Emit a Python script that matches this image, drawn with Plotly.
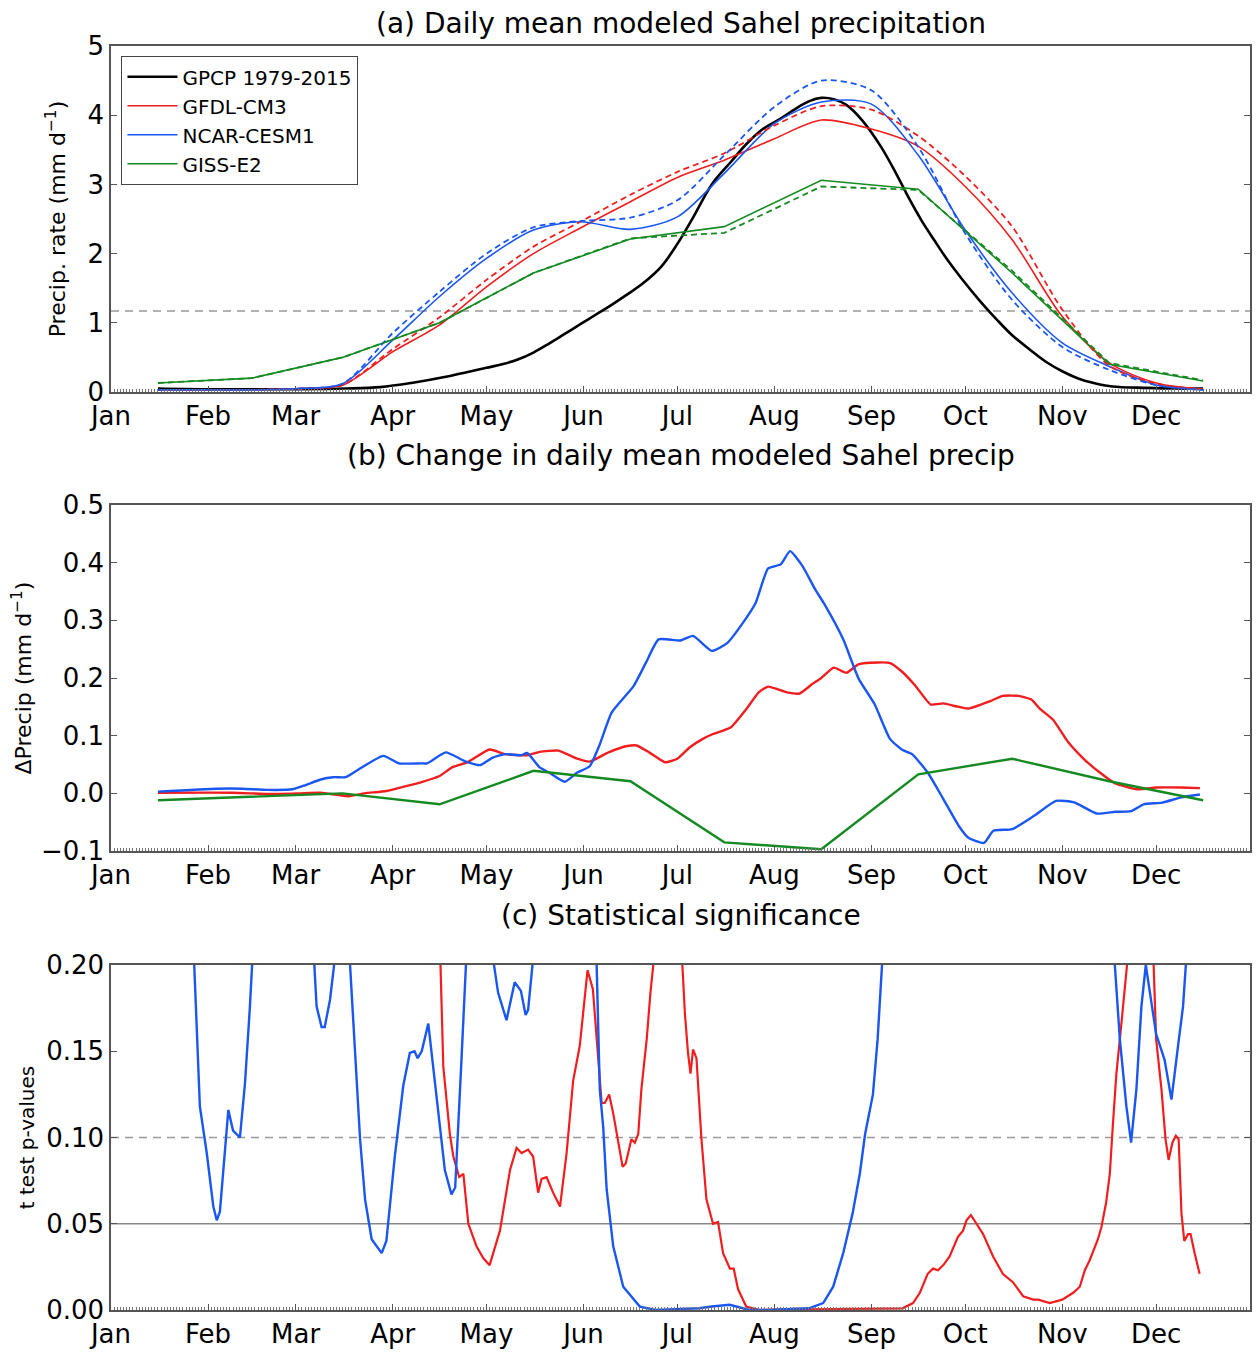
import plotly.graph_objects as go

# ---------------- tick labels ----------------
MONTH_START = [0, 31, 59, 90, 120, 151, 181, 212, 243, 273, 304, 334]
MONTH_NAMES = ["Jan", "Feb", "Mar", "Apr", "May", "Jun", "Jul", "Aug", "Sep", "Oct", "Nov", "Dec"]

# ---------------- panel (a) ----------------
DAYS_MID = [15, 45, 74, 105, 135, 166, 196, 227, 258, 288, 319, 349]
DAYS_HALF = [15, 30, 45, 60, 74, 90, 105, 120, 135, 150, 166, 181, 196, 212, 227, 243, 258, 273, 288, 304, 319, 334, 349]

gpcp_days = [15, 30, 45, 60, 75, 86, 96, 107, 114, 120, 125, 130, 135, 140, 145, 150, 155, 160, 165, 170, 176, 181,
             186, 192, 198, 203, 208, 214, 219, 223, 227, 231, 235, 240, 246, 251, 255, 259, 263, 267, 272, 278,
             283, 288, 294, 299, 304, 310, 315, 320, 331, 340, 349]
gpcp = [0.05, 0.04, 0.04, 0.04, 0.05, 0.07, 0.13, 0.22, 0.29, 0.35, 0.40, 0.47, 0.57, 0.70, 0.84, 0.98, 1.12, 1.26,
        1.41, 1.57, 1.82, 2.14, 2.52, 3.00, 3.32, 3.58, 3.79, 3.95, 4.10, 4.20, 4.25, 4.23, 4.15, 3.93, 3.55, 3.15,
        2.80, 2.48, 2.20, 1.93, 1.63, 1.30, 1.05, 0.82, 0.60, 0.43, 0.30, 0.18, 0.12, 0.08, 0.06, 0.05, 0.05]

gfdl_hist = [0.03, 0.03, 0.03, 0.05, 0.10, 0.58, 0.97, 1.52, 2.00, 2.37, 2.75, 3.10, 3.35, 3.66, 3.93, 3.80, 3.55,
             2.97, 2.20, 1.09, 0.42, 0.13, 0.04]
gfdl_fut = [0.03, 0.03, 0.03, 0.05, 0.10, 0.62, 1.08, 1.62, 2.10, 2.46, 2.85, 3.18, 3.45, 3.85, 4.13, 4.08, 3.70,
            3.12, 2.39, 1.19, 0.38, 0.12, 0.04]
ncar_hist = [0.03, 0.03, 0.03, 0.05, 0.12, 0.75, 1.38, 1.93, 2.34, 2.46, 2.35, 2.53, 3.16, 3.88, 4.19, 4.16, 3.42,
             2.34, 1.43, 0.71, 0.37, 0.10, 0.03]
ncar_fut = [0.03, 0.03, 0.03, 0.05, 0.12, 0.85, 1.45, 2.00, 2.38, 2.47, 2.52, 2.77, 3.42, 4.12, 4.50, 4.36, 3.54,
            2.29, 1.33, 0.65, 0.32, 0.10, 0.03]
giss_hist = [0.13, 0.20, 0.50, 1.00, 1.72, 2.21, 2.39, 3.06, 2.93, 1.72, 0.40, 0.16]
giss_fut = [0.13, 0.20, 0.50, 1.00, 1.72, 2.22, 2.30, 2.97, 2.92, 1.75, 0.42, 0.17]
THRESH_A = 1.17

# ---------------- panel (b) ----------------
ncar_d_days = [15, 34, 42, 50, 58, 62, 67, 71, 75, 79, 87, 92, 99, 101, 107, 113, 118, 122, 126, 131, 133, 137, 140,
               145, 149, 153, 156, 160, 167, 171, 175, 182, 186, 192, 197, 202, 206, 210, 214, 217, 221, 225, 228,
               234, 239, 244, 249, 253, 256, 261, 266, 271, 274, 279, 282, 288, 295, 302, 308, 315, 321, 326, 330,
               336, 342, 348]
ncar_d = [0.003, 0.008, 0.008, 0.006, 0.007, 0.014, 0.024, 0.028, 0.028, 0.041, 0.065, 0.052, 0.052, 0.052, 0.071,
          0.056, 0.049, 0.062, 0.068, 0.066, 0.070, 0.045, 0.036, 0.020, 0.036, 0.047, 0.082, 0.140, 0.186, 0.227,
          0.267, 0.265, 0.273, 0.247, 0.261, 0.296, 0.330, 0.390, 0.397, 0.420, 0.394, 0.354, 0.328, 0.267, 0.198,
          0.155, 0.094, 0.075, 0.068, 0.036, -0.010, -0.057, -0.077, -0.086, -0.065, -0.062, -0.039, -0.013,
          -0.016, -0.035, -0.032, -0.031, -0.019, -0.016, -0.007, -0.002]
gfdl_d_days = [15, 39, 50, 60, 67, 76, 81, 88, 94, 99, 105, 109, 114, 121, 126, 133, 137, 143, 149, 153, 159, 165,
               168, 172, 177, 181, 185, 189, 192, 198, 203, 207, 210, 216, 220, 224, 227, 231, 235, 239, 245, 249,
               253, 257, 262, 266, 270, 274, 281, 285, 290, 294, 297, 301, 306, 311, 316, 321, 328, 334, 342, 348]
gfdl_d = [0.001, 0.001, -0.001, 0.000, 0.001, -0.005, 0.000, 0.004, 0.012, 0.019, 0.030, 0.045, 0.054, 0.076, 0.068,
          0.066, 0.072, 0.074, 0.060, 0.055, 0.071, 0.082, 0.083, 0.071, 0.054, 0.060, 0.080, 0.094, 0.102, 0.114,
          0.146, 0.175, 0.185, 0.175, 0.173, 0.189, 0.200, 0.218, 0.209, 0.224, 0.227, 0.226, 0.210, 0.187, 0.154,
          0.156, 0.151, 0.147, 0.160, 0.169, 0.169, 0.163, 0.146, 0.128, 0.088, 0.059, 0.036, 0.017, 0.007, 0.010,
          0.010, 0.009]
giss_d = [-0.012, -0.006, 0.000, -0.019, 0.039, 0.021, -0.085, -0.097, 0.033, 0.060, 0.021, -0.012]

# ---------------- panel (c) ----------------
ncar_p_days = [15, 24, 26.6, 28.4, 30.6, 32.7, 33.8, 34.8, 37.5, 39, 41.2, 42.8, 44.4, 45, 48, 62, 65, 65.7, 67.3,
               68.3, 70, 71.3, 73, 75, 76.4, 77.4, 79.6, 81.2, 83.3, 86.5, 88, 90.7, 93.4, 95.5, 97, 98, 99.3, 101.4,
               103, 105, 106.7, 108.8, 110, 112, 113.6, 115, 121, 122.4, 123.7, 125, 126.4, 129, 131, 132.5, 133.3,
               134.7, 136, 153, 155.2, 156.2, 157.3, 158.4, 160.5, 163.7, 169, 174, 188, 192, 197.7, 204, 209.5, 223,
               227.6, 230.8, 234, 237, 239.3, 241, 243.5, 245, 246.4, 248, 318, 320.8, 322.4, 324.5, 326, 327.7,
               329.3, 330.7, 332, 334, 336.7, 338.9, 341, 342.6, 343.5, 345, 349]
ncar_p = [0.5, 0.3, 0.2, 0.118, 0.091, 0.06, 0.052, 0.057, 0.116, 0.104, 0.1, 0.131, 0.176, 0.2, 0.3, 0.3, 0.2, 0.176,
          0.164, 0.164, 0.18, 0.2, 0.26, 0.26, 0.2, 0.166, 0.099, 0.064, 0.041, 0.033, 0.04, 0.089, 0.13, 0.149,
          0.15, 0.146, 0.15, 0.166, 0.141, 0.106, 0.081, 0.067, 0.071, 0.145, 0.2, 0.26, 0.26, 0.2, 0.184, 0.176,
          0.168, 0.19, 0.185, 0.171, 0.174, 0.2, 0.26, 0.3, 0.2, 0.128, 0.106, 0.07, 0.037, 0.0135, 0.002, 0.0,
          0.001, 0.002, 0.003, 0.0, 0.0, 0.001, 0.004, 0.0135, 0.033, 0.056, 0.079, 0.102, 0.125, 0.157, 0.2, 0.3,
          0.3, 0.2, 0.157, 0.118, 0.097, 0.128, 0.176, 0.2, 0.185, 0.16, 0.145, 0.122, 0.153, 0.176, 0.2, 0.3, 0.4]
gfdl_p_days = [15, 100, 104, 105.3, 106.2, 108.3, 109.4, 111.3, 112.6, 114.2, 116.8, 119, 121, 124.3, 127.5, 129.6,
               131.2, 133.3, 134.9, 136.5, 137.6, 139.2, 141.3, 143.5, 145.6, 147.7, 149.8, 152.3, 154, 155.7, 156.8,
               157.8, 159.2, 160.5, 162, 163.5, 164.5, 166.3, 167.4, 168.5, 169.5, 171.2, 172.4, 173.3, 175, 181,
               182.6, 183.4, 184.4, 185.2, 186, 187.1, 188.7, 190.3, 192.4, 194, 195.6, 197.8, 199, 200.4, 203, 207.3,
               253, 256.3, 258.5, 261, 262.7, 264.3, 266, 268, 270.7, 272.3, 273.4, 274.8, 276.6, 278.7, 281.9, 285,
               288.3, 291.5, 294.7, 296.3, 300, 304, 307.5, 309.6, 311.2, 312.8, 315.4, 316.5, 318, 319.2, 320.2,
               321.3, 322.9, 324.7, 326.5, 331.5, 333.2, 334, 335.7, 337, 338, 339.2, 340.3, 341.2, 342.1, 343, 344.2,
               345, 346.3, 347.9]
gfdl_p = [0.4, 0.4, 0.26, 0.2, 0.141, 0.102, 0.089, 0.077, 0.079, 0.05, 0.037, 0.03, 0.026, 0.046, 0.081, 0.094,
          0.091, 0.093, 0.089, 0.068, 0.076, 0.077, 0.068, 0.06, 0.091, 0.133, 0.153, 0.197, 0.186, 0.147, 0.12,
          0.12, 0.125, 0.114, 0.099, 0.083, 0.085, 0.099, 0.097, 0.102, 0.128, 0.157, 0.184, 0.2, 0.3, 0.3, 0.2,
          0.172, 0.149, 0.137, 0.151, 0.146, 0.099, 0.064, 0.05, 0.051, 0.033, 0.024, 0.024, 0.012, 0.002, 0.0,
          0.001, 0.004, 0.01, 0.021, 0.024, 0.023, 0.026, 0.031, 0.0425, 0.046, 0.052, 0.055, 0.05, 0.044, 0.031,
          0.021, 0.016, 0.008, 0.006, 0.006, 0.004, 0.006, 0.01, 0.0135, 0.023, 0.029, 0.041, 0.048, 0.062, 0.079,
          0.108, 0.137, 0.166, 0.2, 0.3, 0.3, 0.2, 0.157, 0.128, 0.099, 0.087, 0.097, 0.101, 0.099, 0.056, 0.04,
          0.044, 0.044, 0.033, 0.021]
P_DASHED = 0.10
P_SOLID = 0.05

# ---------------- styling ----------------
FONT = "DejaVu Sans"
BLACK = "#000000"
RED = "#f01e1e"
BLUE = "#1a56f0"
GREEN = "#168a22"
GRAY = "#9a9a9a"
FRAME = "#555555"

fig = go.Figure()

# panel (a)
fig.add_trace(go.Scatter(x=gpcp_days, y=gpcp, mode="lines", name="GPCP 1979-2015",
                         line=dict(color=BLACK, width=2.6, shape="spline", smoothing=1.0), xaxis="x", yaxis="y"))
fig.add_trace(go.Scatter(x=DAYS_HALF, y=gfdl_hist, mode="lines", name="GFDL-CM3",
                         line=dict(color=RED, width=1.6, shape="spline", smoothing=0.8), xaxis="x", yaxis="y"))
fig.add_trace(go.Scatter(x=DAYS_HALF, y=ncar_hist, mode="lines", name="NCAR-CESM1",
                         line=dict(color=BLUE, width=1.6, shape="spline", smoothing=0.8), xaxis="x", yaxis="y"))
fig.add_trace(go.Scatter(x=DAYS_MID, y=giss_hist, mode="lines", name="GISS-E2",
                         line=dict(color=GREEN, width=1.6), xaxis="x", yaxis="y"))
fig.add_trace(go.Scatter(x=DAYS_HALF, y=gfdl_fut, mode="lines", showlegend=False,
                         line=dict(color=RED, width=1.8, dash="6px,4px", shape="spline", smoothing=0.8),
                         xaxis="x", yaxis="y"))
fig.add_trace(go.Scatter(x=DAYS_HALF, y=ncar_fut, mode="lines", showlegend=False,
                         line=dict(color=BLUE, width=1.8, dash="6px,4px", shape="spline", smoothing=0.8),
                         xaxis="x", yaxis="y"))
fig.add_trace(go.Scatter(x=DAYS_MID, y=giss_fut, mode="lines", showlegend=False,
                         line=dict(color=GREEN, width=1.8, dash="6px,4px"), xaxis="x", yaxis="y"))

# panel (b)
fig.add_trace(go.Scatter(x=gfdl_d_days, y=gfdl_d, mode="lines", showlegend=False,
                         line=dict(color=RED, width=2.4, shape="spline", smoothing=0.5), xaxis="x2", yaxis="y2"))
fig.add_trace(go.Scatter(x=ncar_d_days, y=ncar_d, mode="lines", showlegend=False,
                         line=dict(color=BLUE, width=2.4, shape="spline", smoothing=0.5), xaxis="x2", yaxis="y2"))
fig.add_trace(go.Scatter(x=DAYS_MID, y=giss_d, mode="lines", showlegend=False,
                         line=dict(color=GREEN, width=2.4), xaxis="x2", yaxis="y2"))

# panel (c)
fig.add_trace(go.Scatter(x=gfdl_p_days, y=gfdl_p, mode="lines", showlegend=False,
                         line=dict(color=RED, width=2.2), xaxis="x3", yaxis="y3"))
fig.add_trace(go.Scatter(x=ncar_p_days, y=ncar_p, mode="lines", showlegend=False,
                         line=dict(color=BLUE, width=2.4), xaxis="x3", yaxis="y3"))

shapes = [
    dict(type="line", xref="x domain", x0=0, x1=1, yref="y", y0=THRESH_A, y1=THRESH_A,
         line=dict(color=GRAY, width=1.5, dash="8px,6px"), layer="below"),
    dict(type="line", xref="x3 domain", x0=0, x1=1, yref="y3", y0=P_DASHED, y1=P_DASHED,
         line=dict(color=GRAY, width=1.5, dash="8px,6px"), layer="below"),
    dict(type="line", xref="x3 domain", x0=0, x1=1, yref="y3", y0=P_SOLID, y1=P_SOLID,
         line=dict(color="#888888", width=1.5), layer="below"),
]

def xax(anchor):
    return dict(anchor=anchor, domain=[0, 1], range=[0, 364], tickmode="array", tickvals=MONTH_START,
                ticktext=MONTH_NAMES, ticks="inside", ticklen=6, tickcolor=FRAME, showline=True, linecolor=FRAME,
                linewidth=1.5, mirror=True, showgrid=False, zeroline=False, automargin=False,
                tickfont=dict(family=FONT, size=26, color=BLACK),
                minor=dict(tickmode="linear", tick0=0, dtick=1, ticks="inside", ticklen=3, tickcolor="#777777"))

def yax(anchor, dom, rng, tv, tt, title, tsize, standoff):
    return dict(anchor=anchor, domain=dom, range=rng, tickmode="array", tickvals=tv, ticktext=tt,
                ticks="inside", ticklen=6, tickcolor=FRAME, showline=True, linecolor=FRAME, linewidth=1.5,
                mirror="ticks", showgrid=False, zeroline=False, automargin=False,
                tickfont=dict(family=FONT, size=26, color=BLACK),
                title=dict(text=title, font=dict(family=FONT, size=tsize, color=BLACK), standoff=standoff))

# the page body adds an 8 px offset; the figure is sized so the plot lands where the reference has it
PAGE_OFF = 8
FIG_W, FIG_H = 1260 - PAGE_OFF, 1359 - PAGE_OFF
M_L, M_R, M_T, M_B = 111 - PAGE_OFF, 10, 46 - PAGE_OFF, 49
H_PLOT = FIG_H - M_T - M_B
Y_BOTTOM = PAGE_OFF + FIG_H - M_B  # screen px of the bottom of panel (c)

def dom(top_px, bot_px):
    return [(Y_BOTTOM - bot_px) / H_PLOT, (Y_BOTTOM - top_px) / H_PLOT]

def py(px):
    return (Y_BOTTOM - px) / H_PLOT

fig.update_layout(
    width=FIG_W, height=FIG_H,
    margin=dict(l=M_L, r=M_R, t=M_T, b=M_B, autoexpand=False),
    paper_bgcolor="white", plot_bgcolor="white",
    font=dict(family=FONT, color=BLACK),
    xaxis=xax("y"), xaxis2=xax("y2"), xaxis3=xax("y3"),
    yaxis=yax("x", dom(46, 392), [0, 5], [0, 1, 2, 3, 4, 5], ["0", "1", "2", "3", "4", "5"],
              "Precip. rate (mm d<sup>−1</sup>)", 22, 16),
    yaxis2=yax("x2", dom(505, 851), [-0.1, 0.5], [-0.1, 0.0, 0.1, 0.2, 0.3, 0.4, 0.5],
               ["−0.1", "0.0", "0.1", "0.2", "0.3", "0.4", "0.5"], "ΔPrecip (mm d<sup>−1</sup>)", 22, 4),
    yaxis3=yax("x3", dom(965, 1310), [0, 0.2], [0, 0.05, 0.1, 0.15, 0.2],
               ["0.00", "0.05", "0.10", "0.15", "0.20"], "t test p-values", 20, 6),
    shapes=shapes,
    showlegend=True,
    legend=dict(x=0.009, y=py(56), xanchor="left", yanchor="top", bgcolor="white",
                bordercolor="#444444", borderwidth=1.2, itemwidth=50,
                font=dict(family=FONT, size=20, color=BLACK)),
    annotations=[
        dict(text="(a) Daily mean modeled Sahel precipitation", xref="paper", yref="paper", x=0.5,
             y=py(24), xanchor="center", yanchor="middle", showarrow=False,
             font=dict(family=FONT, size=28, color=BLACK)),
        dict(text="(b) Change in daily mean modeled Sahel precip", xref="paper", yref="paper", x=0.5,
             y=py(456), xanchor="center", yanchor="middle", showarrow=False,
             font=dict(family=FONT, size=28, color=BLACK)),
        dict(text="(c) Statistical significance", xref="paper", yref="paper", x=0.5,
             y=py(915), xanchor="center", yanchor="middle", showarrow=False,
             font=dict(family=FONT, size=28, color=BLACK)),
    ],
)

fig.write_html("out.html")
